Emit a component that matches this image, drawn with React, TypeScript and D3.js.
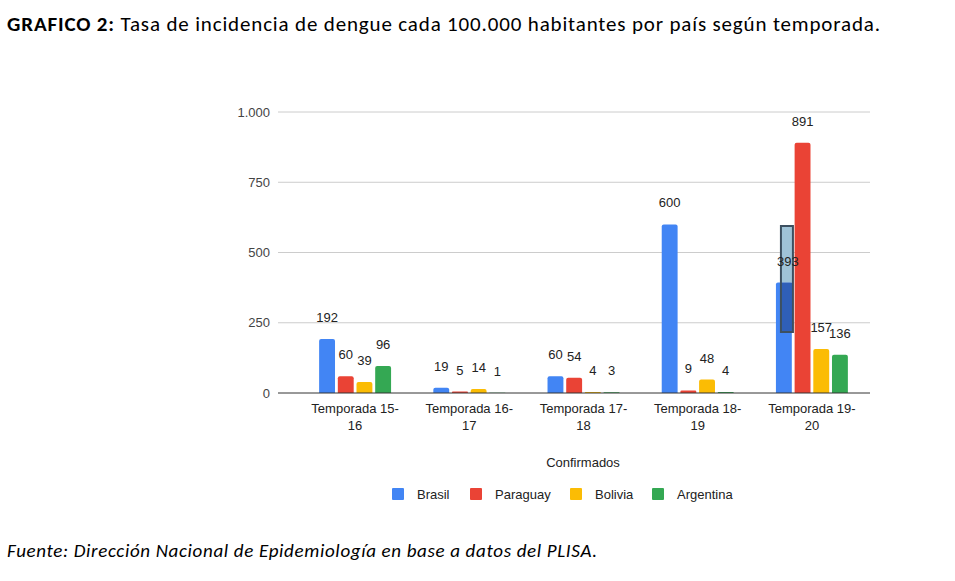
import React from "react";
import * as d3 from "d3";

const categories = ["Temporada 15-16", "Temporada 16-17", "Temporada 17-18", "Temporada 18-19", "Temporada 19-20"];
const categoryLines = [["Temporada 15-", "16"], ["Temporada 16-", "17"], ["Temporada 17-", "18"], ["Temporada 18-", "19"], ["Temporada 19-", "20"]];
const seriesNames = ["Brasil", "Paraguay", "Bolivia", "Argentina"];
const seriesColors = ["#4285f4", "#ea4335", "#fbbc04", "#34a853"];
const brasil = [192, 19, 60, 600, 393];
const paraguay = [60, 5, 54, 9, 891];
const bolivia = [39, 14, 4, 48, 157];
const argentina = [96, 1, 3, 4, 136];
const yTicks = [0, 250, 500, 750, 1000];
const yTickLabels = ["0", "250", "500", "750", "1.000"];

const seriesValues = [brasil, paraguay, bolivia, argentina];

export default function App() {
  const W = 955, H = 581;
  const x0 = d3.scaleBand<string>().domain(categories).range([298, 869]).paddingInner(0.37).paddingOuter(0.185);
  const x1 = d3.scaleBand<string>().domain(seriesNames).range([0, x0.bandwidth()]).paddingInner(0.15);
  const y = d3.scaleLinear().domain([0, 1000]).range([393, 112]);
  const chartFont = "'Liberation Sans', Arial, sans-serif";
  const docFont = "Carlito, Calibri, Lato, sans-serif";
  const legendX = [392, 470, 570, 652];

  const barPath = (x: number, w: number, yTop: number, yBase: number) => {
    const h = yBase - yTop;
    const r = Math.min(2, h / 2, w / 2);
    return `M${x},${yBase}V${yTop + r}Q${x},${yTop} ${x + r},${yTop}H${x + w - r}Q${x + w},${yTop} ${x + w},${yTop + r}V${yBase}Z`;
  };

  // highlight box drawn over Brasil 19-20 bar (screenshot artefact)
  const hiX = (x0(categories[4]) ?? 0) + (x1(seriesNames[0]) ?? 0) + 5;
  const hiTop = 226;
  const hiBottom = 332;
  const hiSplit = y(brasil[4]);

  return (
    <svg width={W} height={H} style={{ position: "absolute", left: 0, top: 0, background: "#fff" }}>
      <text x={7} y={31} fontFamily={docFont} fontSize={21} fill="#000" textLength={873} lengthAdjust="spacing">
        <tspan fontWeight="bold">GRAFICO 2:</tspan>
        <tspan> Tasa de incidencia de dengue cada 100.000 habitantes por país según temporada.</tspan>
      </text>

      {yTicks.map((t, i) => (
        <g key={t}>
          {t !== 0 && <line x1={278} x2={870} y1={y(t)} y2={y(t)} stroke="#cccccc" strokeWidth={1} />}
          <text x={270} y={y(t) + 4.5} textAnchor="end" fontFamily={chartFont} fontSize={13} fill="#444">
            {yTickLabels[i]}
          </text>
        </g>
      ))}

      {categories.map((c, ci) => (
        <g key={c}>
          {seriesNames.map((s, si) => {
            const v = seriesValues[si][ci];
            const bx = (x0(c) ?? 0) + (x1(s) ?? 0);
            const bw = x1.bandwidth();
            return (
              <g key={s}>
                <path d={barPath(bx, bw, y(v), y(0))} fill={seriesColors[si]} />
              </g>
            );
          })}
          {categoryLines[ci].map((ln, li) => (
            <text key={li} x={(x0(c) ?? 0) + x0.bandwidth() / 2} y={413 + li * 17} textAnchor="middle" fontFamily={chartFont} fontSize={13} fill="#222">
              {ln}
            </text>
          ))}
        </g>
      ))}

      <rect x={hiX} y={hiTop} width={12} height={hiSplit - hiTop} fill="#9fc3d7" />
      <rect x={hiX} y={hiSplit} width={12} height={hiBottom - hiSplit} fill="#2f5fb8" />
      <rect x={hiX} y={hiTop} width={12} height={hiBottom - hiTop} fill="none" stroke="#3d5060" strokeWidth={2} />

      {categories.map((c, ci) =>
        seriesNames.map((s, si) => {
          const v = seriesValues[si][ci];
          const bx = (x0(c) ?? 0) + (x1(s) ?? 0);
          const bw = x1.bandwidth();
          const dx = ci === 4 && si === 0 ? 4 : 0;
          return (
            <text key={c + s} x={bx + bw / 2 + dx} y={y(v) - 17} textAnchor="middle" fontFamily={chartFont} fontSize={13} fill="#222">
              {v}
            </text>
          );
        })
      )}

      <line x1={278} x2={870} y1={y(0)} y2={y(0)} stroke="#333" strokeWidth={1} />

      <text x={583} y={467} textAnchor="middle" fontFamily={chartFont} fontSize={13} fill="#222">Confirmados</text>

      {seriesNames.map((s, si) => (
        <g key={s}>
          <rect x={legendX[si]} y={488} width={12} height={12} rx={1} fill={seriesColors[si]} />
          <text x={legendX[si] + 25} y={499} fontFamily={chartFont} fontSize={13} fill="#222">{s}</text>
        </g>
      ))}

      <text x={7} y={557} fontFamily={docFont} fontSize={19} fontStyle="italic" fill="#000" textLength={590} lengthAdjust="spacing">
        Fuente: Dirección Nacional de Epidemiología en base a datos del PLISA.
      </text>
    </svg>
  );
}
